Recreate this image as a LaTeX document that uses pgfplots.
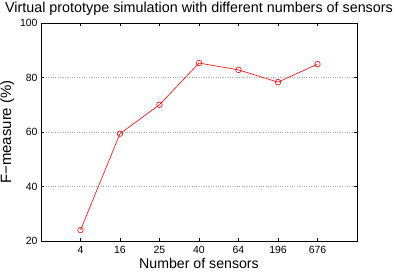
\documentclass[border=0pt]{standalone}
\usepackage{pgfplots}
\pgfplotsset{compat=1.18}
\usepackage{fontspec}
\setmainfont{Liberation Sans}
\begin{document}
\begin{tikzpicture}
\path[use as bounding box] (-41bp,-33bp) rectangle (356bp,241bp);
\begin{axis}[
  at={(0,0)}, anchor=south west,
  scale only axis, width=316bp, height=218bp,
  xmin=0, xmax=8, ymin=20, ymax=100,
  xtick={1,2,3,4,5,6,7},
  xticklabels={4,16,25,40,64,196,676},
  ytick={20,40,60,80,100},
  tick align=inside, major tick length=3bp,
  tick style={black, line width=0.5pt},
  axis line style={black, line width=0.6pt},
  ymajorgrids, grid style={dotted, gray!70, line width=0.5pt},
  /pgf/number format/assume math mode=true,
  tick label style={font=\fontsize{10.5}{12}\selectfont},
  xticklabel style={yshift=-2bp},
  title={Virtual prototype simulation with different numbers of sensors},
  title style={font=\fontsize{14.4}{16}\selectfont, yshift=-2bp},
  xlabel={Number of sensors},
  ylabel={F−measure (\%)},
  xlabel style={font=\fontsize{14.2}{16}\selectfont, yshift=3bp},
  ylabel style={font=\fontsize{15}{16}\selectfont, yshift=-1bp},
]
\addplot[red, line width=0.6pt, mark=o, mark size=2.8bp, mark options={solid}]
coordinates {(1,24) (2,59.4) (3,70) (4,85.3) (5,82.8) (6,78.3) (7,84.9)};
\end{axis}
\end{tikzpicture}
\end{document}
